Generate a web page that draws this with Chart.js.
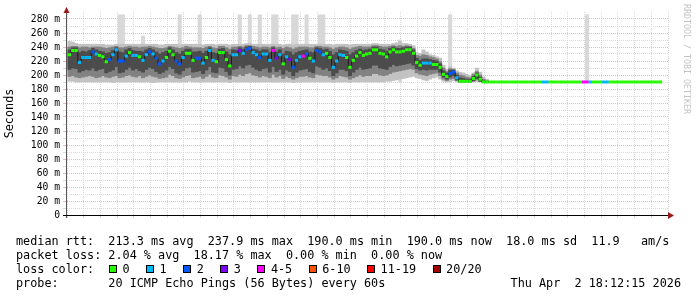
<!DOCTYPE html>
<html>
<head>
<meta charset="utf-8">
<script src="https://cdn.jsdelivr.net/npm/chart.js@4.4.1/dist/chart.umd.min.js"></script>
<style>
  html, body { margin: 0; padding: 0; background: #fff; }
  #wrap { position: relative; width: 697px; height: 297px; overflow: hidden; }
  #wrap canvas { position: absolute; left: 0; top: 0; }
  .ln { position: absolute; font: 11.8px "DejaVu Sans Mono", monospace; line-height: 14px; white-space: pre; color: #000; }
  .box { position: absolute; width: 6px; height: 6px; border: 1px solid #000; }
  #mark { position: absolute; left: 682px; top: 4px; writing-mode: vertical-rl; font: 8.3px "DejaVu Sans Mono", monospace; color: #c4c4c4; white-space: pre; }
</style>
</head>
<body>
<div id="wrap">
  <canvas id="chart" width="697" height="297"></canvas>
  <div id="mark">RRDTOOL / TOBI OETIKER</div>
  <div id="footer"></div>
</div>
<script>
// one sample per minute, first sample at 15:13 (minutes counted from 15:00)
var firstMinute = 13;

// median rtt in ms, 15:13 .. 18:10
var median = [
  229,235,235,218,225,225,225,233,230,228,
  226,219,222,229,236,220,220,227,232,228,
  228,226,221,229,233,230,224,216,220,225,
  234,229,220,216,225,231,231,221,224,224,
  217,225,235,221,219,232,232,222,213,229,
  229,235,231,236,238,232,229,225,230,230,
  221,235,224,229,216,226,222,211,221,226,
  227,230,224,220,235,233,229,231,225,211,
  220,229,228,225,211,221,227,232,228,230,
  231,236,236,231,230,226,233,236,233,233,
  234,236,236,231,218,214,217,217,217,215,
  215,211,201,198,202,204,196,191,191,191,
  191,195,200,194,190,190,190,190,190,190,
  190,190,190,190,190,190,190,190,190,190,
  190,190,190,190,190,190,190,190,190,190,
  190,190,190,190,190,190,190,190,190,190,
  190,190,190,190,190,190,190,190,190,190,
  190,190,190,190,190,190,190,190
];

// lost pings per sample, as index into lossColors
var lossClass = [
  0,0,0,1,1,1,1,2,1,0,
  0,0,2,1,1,2,2,1,0,1,
  1,0,1,1,2,1,2,2,1,0,
  0,0,2,2,1,0,0,0,2,2,
  1,0,1,1,0,0,0,0,0,1,
  1,3,1,2,2,1,1,2,1,1,
  1,4,3,1,0,1,3,2,1,1,
  4,2,0,1,2,2,1,0,0,1,
  1,1,1,0,0,0,0,0,0,0,
  0,0,0,0,0,0,0,0,0,0,
  0,0,0,0,0,0,1,1,1,0,
  0,0,0,0,2,2,1,0,0,0,
  0,0,0,0,0,0,0,0,0,0,
  0,0,0,0,0,0,0,0,0,0,
  0,0,1,1,0,0,0,0,0,0,
  0,0,0,0,4,4,1,0,0,0,
  1,1,0,0,0,0,0,0,0,0,
  0,0,0,0,0,0,0,0
];

// smoke (ping spread) 15:13 .. 17:18, ms
var smokeMin = [
  191,191,190,190,190,190,190,190,190,190,
  190,190,190,189,190,190,190,190,190,190,
  190,190,190,190,190,189,190,190,190,190,
  190,190,190,190,190,190,191,190,190,190,
  190,190,190,190,190,190,190,190,189,190,
  190,190,190,190,190,190,190,190,190,190,
  190,190,190,190,190,190,190,189,190,190,
  190,190,190,190,190,190,190,190,190,189,
  190,190,190,190,189,190,190,190,190,190,
  190,190,190,190,190,191,191,192,193,194,
  195,196,197,198,196,195,193,192,194,196,
  197,194,191,190,191,192,190,190,190,190,
  190,190,191,190,190,190
];
var smokeMax = [
  248,247,245,244,244,244,244,244,244,244,
  244,243,243,243,244,244,244,244,244,244,
  244,244,244,244,244,244,244,243,243,244,
  244,244,244,243,244,244,244,244,244,244,
  243,244,244,244,243,244,244,244,243,244,
  244,244,244,245,245,244,244,244,244,244,
  244,244,244,244,243,244,244,243,244,244,
  244,244,244,244,244,244,244,244,244,243,
  244,244,244,244,243,244,244,244,244,244,
  244,245,245,244,244,244,244,245,246,248,
  245,245,244,242,232,231,236,233,229,228,
  226,224,214,208,212,210,206,204,203,201,
  199,203,210,204,197,194
];
var midLo = [
  198,199,197,196,197,198,199,198,196,197,
  199,197,196,198,199,196,197,199,200,198,
  197,199,196,198,200,198,197,195,196,197,
  201,199,196,195,197,199,200,196,197,198,
  195,198,201,197,196,200,199,197,194,199,
  198,201,199,202,203,200,199,197,199,198,
  196,201,197,199,195,198,196,194,196,198,
  198,199,197,196,201,200,199,199,197,194,
  196,199,198,197,194,196,198,200,198,199,
  199,202,202,200,199,200,202,204,205,206,
  207,208,209,208,203,201,200,199,201,202,
  203,199,194,192,194,195,192,190,190,190,
  190,191,193,191,190,190
];
var midHi = [
  240,241,241,239,240,240,239,240,240,240,
  239,238,239,240,241,239,239,240,241,240,
  240,239,240,240,241,240,239,238,238,239,
  241,240,239,238,239,241,240,239,239,239,
  238,240,241,239,238,241,241,239,237,240,
  240,241,240,242,242,241,240,239,240,240,
  239,241,239,240,238,240,239,237,239,240,
  240,240,239,239,241,241,240,240,239,237,
  239,240,240,239,237,239,240,241,240,240,
  240,242,242,241,240,240,241,242,241,242,
  241,242,241,238,228,227,229,228,226,225,
  223,219,210,205,209,208,203,200,199,197,
  196,201,205,200,194,192
];
var coreLo = [
  208,210,209,204,206,208,207,210,206,208,
  209,203,205,207,212,203,204,208,211,207,
  209,206,204,208,211,209,205,202,204,207,
  212,209,203,201,206,210,211,204,205,206,
  202,207,212,204,203,211,210,205,200,208,
  209,213,210,214,215,211,208,206,209,210,
  204,212,205,208,201,207,205,199,204,207,
  208,209,205,203,213,211,208,210,206,199,
  203,208,208,206,199,204,208,211,208,209,
  210,214,214,210,209,208,212,215,213,214,
  215,216,217,214,209,207,208,207,208,208,
  208,204,197,194,197,199,193,190,190,190,
  190,192,195,191,190,190
];
var coreHi = [
  236,239,239,232,234,233,235,238,236,234,
  233,231,232,235,239,233,232,236,238,235,
  234,234,233,236,238,236,233,230,232,234,
  239,236,232,230,234,237,237,233,233,234,
  231,234,239,232,231,237,238,233,229,236,
  235,239,237,240,241,237,236,234,236,236,
  232,239,233,236,230,234,233,229,232,234,
  235,236,233,232,239,238,236,237,234,229,
  232,236,235,234,229,232,235,237,235,236,
  237,240,240,237,236,234,238,240,238,238,
  239,240,240,236,224,221,223,223,222,221,
  220,216,206,203,207,207,200,196,195,194,
  194,198,203,197,192,191
];

// single samples whose slowest ping went far above the rest
var spikeMinutes = [28, 29, 35, 46, 52, 64, 67, 70, 74, 75, 80, 81, 84, 88, 89, 112, 127, 168];
var spikeTops =    [286,286,256,286,286,286,286,286,286,286,286,286,286,286,286,250,286,286];

var lossLabels = ['0', '1', '2', '3', '4-5', '6-10', '11-19', '20/20'];
var lossColors = ['#26ff00', '#00b8ff', '#0059ff', '#7e00ff', '#ff00ff', '#ff5500', '#ff0000', '#a00000'];

var rttLine = ['213.3 ms avg', '237.9 ms max', '190.0 ms min', '190.0 ms now', '18.0 ms sd', '11.9   am/s'];
var lossLine = ['2.04 % avg', '18.17 % max', '0.00 % min', '0.00 % now'];
var probeText = '20 ICMP Echo Pings (56 Bytes) every 60s';
var stampText = 'Thu Apr  2 18:12:15 2026';

function band(lo, hi) {
  return lo.map(function (v, i) { return { x: firstMinute + i, y: [v, hi[i]] }; });
}

function clock(m) {
  var h = 15 + Math.floor(m / 60), mm = m % 60;
  return h + ':' + (mm < 10 ? '0' : '') + mm;
}

var monoSmall = { family: 'DejaVu Sans Mono', size: 9.7 };
var gridMajor = '#ecb8b8';
var gridMinor = '#d8d8d8';

// axis lines with the little arrow heads
var axisArrows = {
  id: 'axisArrows',
  afterDraw: function (chart) {
    var ctx = chart.ctx, a = chart.chartArea;
    ctx.save();
    ctx.lineWidth = 1;
    ctx.strokeStyle = '#555';
    ctx.beginPath();
    ctx.moveTo(a.left - 0.5, a.bottom + 3);
    ctx.lineTo(a.left - 0.5, a.top - 3);
    ctx.stroke();
    ctx.strokeStyle = '#000';
    ctx.beginPath();
    ctx.moveTo(a.left - 4, a.bottom + 0.5);
    ctx.lineTo(a.right + 1, a.bottom + 0.5);
    ctx.stroke();
    ctx.fillStyle = '#9a1a1a';
    ctx.beginPath();
    ctx.moveTo(a.left - 3.5, a.top + 1);
    ctx.lineTo(a.left + 2.5, a.top + 1);
    ctx.lineTo(a.left - 0.5, a.top - 5);
    ctx.closePath();
    ctx.fill();
    ctx.beginPath();
    ctx.moveTo(a.right, a.bottom - 3);
    ctx.lineTo(a.right, a.bottom + 4);
    ctx.lineTo(a.right + 6, a.bottom + 0.5);
    ctx.closePath();
    ctx.fill();
    ctx.restore();
  }
};

new Chart(document.getElementById('chart'), {
  type: 'bar',
  data: {
    datasets: [{
      type: 'line',
      label: 'median',
      order: 0,
      data: median.map(function (v, i) { return { x: firstMinute + i, y: v }; }),
      stepped: 'middle',
      borderColor: '#1a1a1a',
      borderWidth: 1,
      fill: false,
      pointStyle: 'line',
      pointRadius: function (c) {
        var s = c.chart.scales.x;
        return (s.getPixelForValue(1) - s.getPixelForValue(0)) / 2;
      },
      pointBorderWidth: 3,
      pointBorderColor: function (c) { return lossColors[lossClass[c.dataIndex]]; },
      pointBackgroundColor: function (c) { return lossColors[lossClass[c.dataIndex]]; }
    }, {
      label: 'core',
      order: 1,
      data: band(coreLo, coreHi),
      backgroundColor: '#4c4c4c'
    }, {
      label: 'mid',
      order: 2,
      data: band(midLo, midHi),
      backgroundColor: '#828282'
    }, {
      label: 'outer',
      order: 3,
      data: band(smokeMin, smokeMax),
      backgroundColor: '#c2c2c2'
    }, {
      label: 'spikes',
      order: 4,
      data: spikeMinutes.map(function (m, i) { return { x: m, y: [190, spikeTops[i]] }; }),
      backgroundColor: '#d8d8d8'
    }]
  },
  options: {
    responsive: false,
    animation: false,
    events: [],
    layout: { padding: { left: 0, top: 12, right: 29, bottom: 64 } },
    plugins: { legend: { display: false }, tooltip: { enabled: false } },
    datasets: { bar: { grouped: false, barPercentage: 1, categoryPercentage: 1, borderWidth: 0 } },
    scales: {
      x: {
        type: 'linear',
        min: 12.25,
        max: 192.25,
        offset: false,
        afterFit: function (s) { s.height = 18; },
        grid: {
          offset: false, tickLength: 3,
          color: function (c) { return c.tick && c.tick.value % 20 === 0 ? gridMajor : gridMinor; },
          tickColor: function (c) { return c.tick && c.tick.value % 20 === 0 ? gridMajor : gridMinor; }
        },
        border: { display: false, dash: [1, 1] },
        ticks: {
          stepSize: 5, includeBounds: false, autoSkip: false, maxRotation: 0, minRotation: 0,
          padding: 1, color: '#000', font: monoSmall,
          callback: function (v) { return v % 20 === 0 ? clock(v) : ''; }
        }
      },
      y: {
        min: 0,
        max: 290,
        afterFit: function (s) { s.width = 67; },
        grid: {
          tickLength: 4,
          color: function (c) {
            var v = c.tick ? c.tick.value : 0;
            if (v === 0 || v === 290) return 'rgba(0,0,0,0)';
            return v % 20 === 0 ? gridMajor : gridMinor;
          },
          tickColor: function (c) {
            var v = c.tick ? c.tick.value : 0;
            if (v === 290) return 'rgba(0,0,0,0)';
            return v % 20 === 0 ? gridMajor : gridMinor;
          }
        },
        border: { display: false, dash: [1, 1] },
        ticks: {
          stepSize: 10, autoSkip: false, padding: 3, color: '#000', font: monoSmall,
          callback: function (v) { return v % 20 !== 0 ? '' : (v === 0 ? '0' : v + ' m'); }
        },
        title: {
          display: true, text: 'Seconds', color: '#000',
          font: { family: 'DejaVu Sans Mono', size: 11.8 },
          padding: { top: 3, bottom: 0 }
        }
      }
    }
  },
  plugins: [axisArrows]
});

// legend / footer text
var footer = document.getElementById('footer');
var charW = 7.1;
function addLine(text, left, top) {
  var d = document.createElement('div');
  d.className = 'ln';
  d.style.left = left + 'px';
  d.style.top = top + 'px';
  d.textContent = text;
  footer.appendChild(d);
  return d;
}
addLine('median rtt:  ' + rttLine.join('  '), 16, 233.5);
addLine('packet loss: ' + lossLine.join('  '), 16, 247.5);
addLine('loss color:', 16, 261.5);
var bx = 109;
lossLabels.forEach(function (lab, i) {
  var b = document.createElement('div');
  b.className = 'box';
  b.style.left = bx + 'px';
  b.style.top = '265px';
  b.style.background = lossColors[i];
  footer.appendChild(b);
  addLine(lab, bx + 13.5, 261.5);
  bx += 30 + charW * lab.length;
});
addLine('probe:       ' + probeText, 16, 275.5);
var st = addLine(stampText, 0, 275.5);
st.style.left = 'auto';
st.style.right = '16px';
</script>
</body>
</html>
